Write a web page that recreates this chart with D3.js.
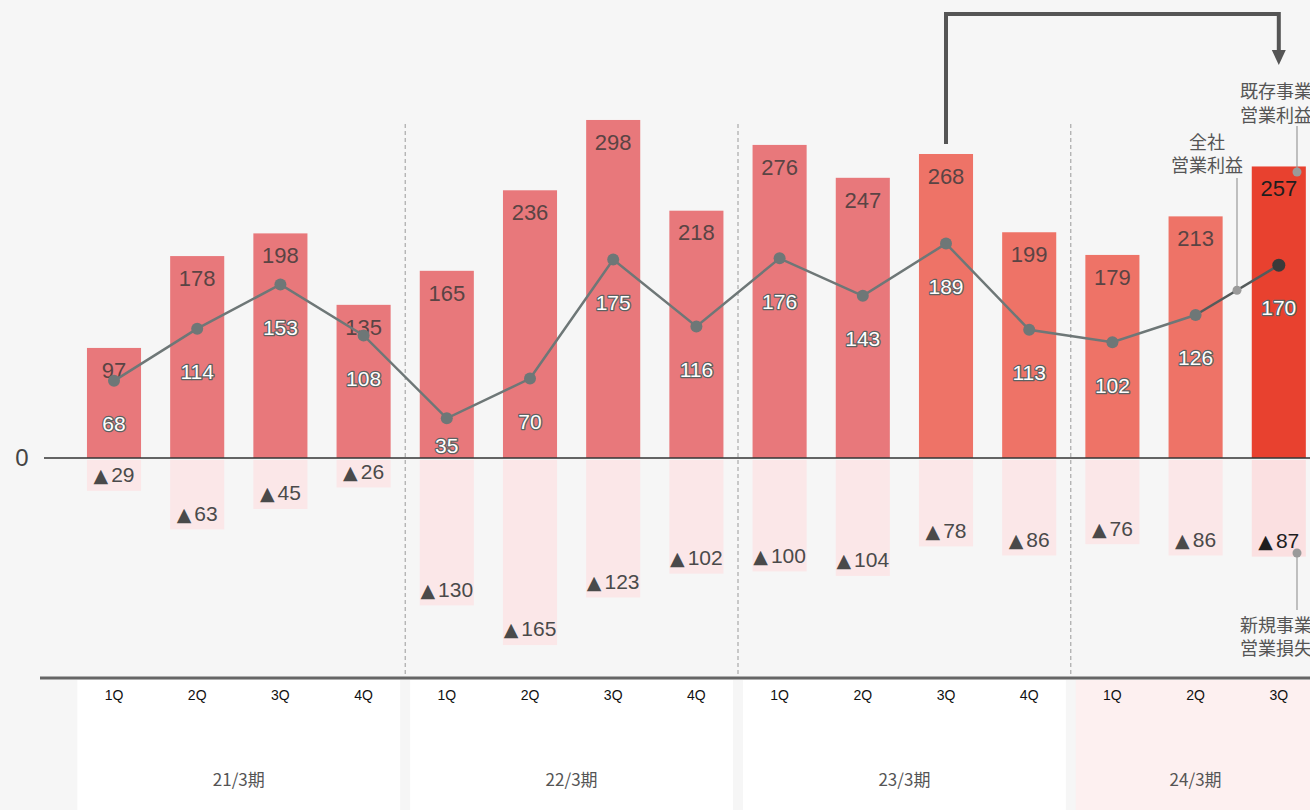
<!DOCTYPE html>
<html>
<head>
<meta charset="utf-8">
<script src="https://cdn.jsdelivr.net/npm/d3@7"></script>
<style>
  html, body { margin: 0; padding: 0; background: #f6f6f6; }
  svg { display: block; }
  text { font-family: "Liberation Sans", Arial, sans-serif; }
  .jp { font-family: "Noto Sans CJK JP", "Noto Sans", sans-serif; }
</style>
</head>
<body>
<svg id="chart" width="1310" height="810"></svg>
<script>
// Quarterly operating profit: existing business, new business loss, company total
const quarters = ["1Q","2Q","3Q","4Q","1Q","2Q","3Q","4Q","1Q","2Q","3Q","4Q","1Q","2Q","3Q"];
const fiscalYears = ["21/3期","21/3期","21/3期","21/3期","22/3期","22/3期","22/3期","22/3期","23/3期","23/3期","23/3期","23/3期","24/3期","24/3期","24/3期"];
const groupLabels = ["21/3期","22/3期","23/3期","24/3期"];
const existingProfit = [97,178,198,135,165,236,298,218,276,247,268,199,179,213,257];
const newBizLoss = [29,63,45,26,130,165,123,102,100,104,78,86,76,86,87];
const totalProfit = [68,114,153,108,35,70,175,116,176,143,189,113,102,126,170];

const W = 1310, H = 810;
const svg = d3.select("#chart");
svg.append("rect").attr("width", W).attr("height", H).attr("fill", "#f6f6f6");

const idx = quarters.map((d, i) => i);
const x = d3.scaleBand().domain(idx).range([72.4, 1320.4]).paddingInner(0.35).paddingOuter(0.175);
const y = d3.scaleLinear().domain([-200, 300]).range([684.8, 117.7]);
const step = x.step(), bw = x.bandwidth();
const cx = i => x(i) + bw / 2;
const last = idx.length - 1;

// fiscal year spans
const groups = groupLabels.map(g => {
  const ii = idx.filter(i => fiscalYears[i] === g);
  return { label: g, first: ii[0], last: ii[ii.length - 1] };
});
const gStart = g => x(g.first) - (step - bw) / 2;
const gEnd = g => x(g.last) + bw + (step - bw) / 2;

// bottom category panels
svg.append("g").selectAll("rect").data(groups).join("rect")
  .attr("x", g => gStart(g) + 5)
  .attr("width", g => gEnd(g) - gStart(g) - 10)
  .attr("y", 680).attr("height", 130)
  .attr("fill", (g, i) => i === groups.length - 1 ? "#fdf0f0" : "#ffffff");

// dashed separators between fiscal years
svg.append("g").selectAll("line").data(groups.slice(0, -1)).join("line")
  .attr("x1", g => gEnd(g)).attr("x2", g => gEnd(g))
  .attr("y1", 124).attr("y2", 678)
  .attr("stroke", "#9a9a9a").attr("stroke-width", 1).attr("stroke-dasharray", "4,3");

// bar colours
const barColor = i => i === last ? "#e8412f" : (i >= 10 ? "#ee7367" : "#e8787b");

// negative (new business loss) bars
svg.append("g").selectAll("rect").data(idx).join("rect")
  .attr("x", i => x(i)).attr("width", bw)
  .attr("y", y(0) + 2)
  .attr("height", i => y(-newBizLoss[i]) - y(0) - 2)
  .attr("fill", i => i === last ? "#fbe0e1" : "#fbe7e8");

// positive (existing business profit) bars
svg.append("g").selectAll("rect").data(idx).join("rect")
  .attr("x", i => x(i)).attr("width", bw)
  .attr("y", i => y(existingProfit[i]))
  .attr("height", i => y(0) - y(existingProfit[i]))
  .attr("fill", barColor);

// zero line and label
svg.append("line").attr("x1", 44).attr("x2", W).attr("y1", y(0)).attr("y2", y(0))
  .attr("stroke", "#333").attr("stroke-width", 1.5);
svg.append("text").attr("x", 22).attr("y", y(0)).attr("dy", "0.35em")
  .attr("text-anchor", "middle").attr("font-size", 24).attr("fill", "#444").text("0");

// existing profit labels
svg.append("g").selectAll("text").data(idx).join("text")
  .attr("x", i => cx(i)).attr("y", i => y(existingProfit[i]) + 22)
  .attr("dy", "0.35em").attr("text-anchor", "middle").attr("font-size", 22)
  .attr("fill", i => i === last ? "#1e1e1e" : "#5a4444")
  .text(i => existingProfit[i]);

// loss labels
const lossText = svg.append("g").selectAll("text").data(idx).join("text")
  .attr("x", i => cx(i)).attr("y", i => y(-newBizLoss[i]) - 16)
  .attr("dy", "0.35em").attr("text-anchor", "middle").attr("font-size", 21)
  .attr("fill", i => i === last ? "#1e1e1e" : "#4a4a4a");
lossText.append("tspan").attr("font-family", "\"DejaVu Sans\", sans-serif").attr("font-size", 19)
  .text("▲");
lossText.append("tspan").attr("dx", 3).text(i => newBizLoss[i]);

// company total line
const lineGen = d3.line().x(i => cx(i)).y(i => y(totalProfit[i]));
svg.append("path").datum(idx.slice(0, last)).attr("d", lineGen)
  .attr("fill", "none").attr("stroke", "#6e7777").attr("stroke-width", 2.5);
svg.append("path").datum([last - 1, last]).attr("d", lineGen)
  .attr("fill", "none").attr("stroke", "#555b5b").attr("stroke-width", 2.5);
svg.append("g").selectAll("circle").data(idx).join("circle")
  .attr("cx", i => cx(i)).attr("cy", i => y(totalProfit[i])).attr("r", i => i === last ? 6.5 : 6)
  .attr("fill", i => i === last ? "#3a3a3a" : "#6e7777");

// total labels (white with outline)
svg.append("g").selectAll("text").data(idx).join("text")
  .attr("x", i => cx(i))
  .attr("y", i => Math.min(y(totalProfit[i]) + 43, y(0) - 12))
  .attr("dy", "0.35em").attr("text-anchor", "middle").attr("font-size", 21)
  .attr("fill", "#ffffff").attr("stroke", "#5d6262").attr("stroke-width", 2.6)
  .attr("stroke-linejoin", "round").attr("paint-order", "stroke")
  .text(i => totalProfit[i]);

// annotation: company total
const ax = 1237;
const t = (ax - cx(last - 1)) / (cx(last) - cx(last - 1));
const ay = y(totalProfit[last - 1]) + t * (y(totalProfit[last]) - y(totalProfit[last - 1]));
svg.append("line").attr("x1", ax).attr("x2", ax).attr("y1", 178).attr("y2", ay)
  .attr("stroke", "#9a9a9a").attr("stroke-width", 1.2);
svg.append("circle").attr("cx", ax).attr("cy", ay).attr("r", 4.5).attr("fill", "#9a9a9a");
svg.append("text").attr("class", "jp").attr("text-anchor", "middle")
  .attr("font-size", 18).attr("fill", "#555").attr("x", 1207).attr("y", 149).text("全社");
svg.append("text").attr("class", "jp").attr("text-anchor", "middle")
  .attr("font-size", 18).attr("fill", "#555").attr("x", 1207).attr("y", 172).text("営業利益");

// annotation: existing business
const ex = 1297;
svg.append("line").attr("x1", ex).attr("x2", ex).attr("y1", 126).attr("y2", 172)
  .attr("stroke", "#9a9a9a").attr("stroke-width", 1.2);
svg.append("circle").attr("cx", ex).attr("cy", 172).attr("r", 4.5).attr("fill", "#9a9a9a");
svg.append("text").attr("class", "jp").attr("font-size", 18).attr("fill", "#555")
  .attr("x", 1240).attr("y", 98).text("既存事業");
svg.append("text").attr("class", "jp").attr("font-size", 18).attr("fill", "#555")
  .attr("x", 1240).attr("y", 122).text("営業利益");

// annotation: new business
svg.append("line").attr("x1", ex).attr("x2", ex).attr("y1", 553).attr("y2", 610)
  .attr("stroke", "#9a9a9a").attr("stroke-width", 1.2);
svg.append("circle").attr("cx", ex).attr("cy", 553).attr("r", 4.5).attr("fill", "#9a9a9a");
svg.append("text").attr("class", "jp").attr("font-size", 18).attr("fill", "#555")
  .attr("x", 1240).attr("y", 632).text("新規事業");
svg.append("text").attr("class", "jp").attr("font-size", 18).attr("fill", "#555")
  .attr("x", 1240).attr("y", 655).text("営業損失");

// elbow arrow from 23/3 3Q to 24/3 3Q
const arrowFrom = 10;
const arrowTop = 14;
svg.append("path")
  .attr("d", `M${cx(arrowFrom)},${y(existingProfit[arrowFrom]) - 10} V${arrowTop} H${cx(last)} V52`)
  .attr("fill", "none").attr("stroke", "#555").attr("stroke-width", 4);
svg.append("path")
  .attr("d", `M${cx(last) - 7},50 L${cx(last) + 7},50 L${cx(last)},65 Z`)
  .attr("fill", "#555");

// bottom axis line
svg.append("line").attr("x1", 40).attr("x2", W).attr("y1", 678).attr("y2", 678)
  .attr("stroke", "#666").attr("stroke-width", 3);

// quarter axis
const axis = d3.axisBottom(x).tickSize(0).tickPadding(0).tickFormat(i => quarters[i]);
const gAxis = svg.append("g").attr("transform", "translate(0,690)").call(axis);
gAxis.select(".domain").remove();
gAxis.selectAll("text").attr("font-size", 14).attr("fill", "#111")
  .attr("font-family", "\"Liberation Sans\", Arial, sans-serif");

// fiscal year labels
svg.append("g").selectAll("text").data(groups).join("text")
  .attr("class", "jp")
  .attr("x", g => (cx(g.first) + cx(g.last)) / 2)
  .attr("y", 780).attr("dy", "0.35em").attr("text-anchor", "middle")
  .attr("font-size", 17).attr("fill", "#555")
  .text(g => g.label);
</script>
</body>
</html>
